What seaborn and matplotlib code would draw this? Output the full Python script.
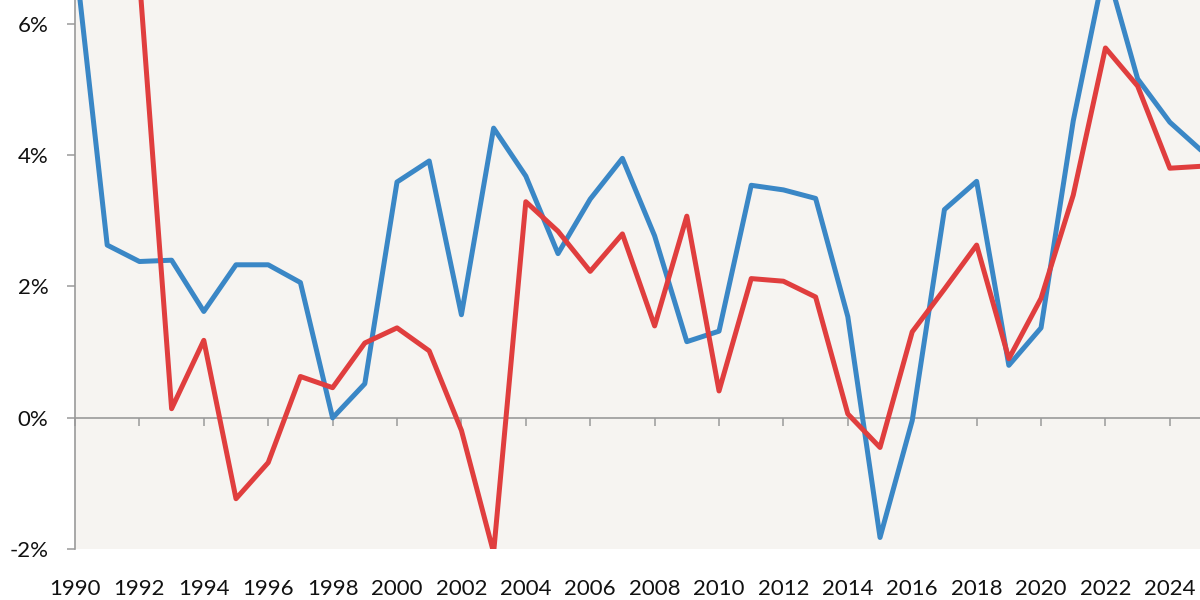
import matplotlib
matplotlib.use("Agg")
import matplotlib.pyplot as plt
import pandas as pd
import seaborn as sns

# Values (percent, yearly)
years = list(range(1990, 2026))
blue_values = [7.05, 2.63, 2.38, 2.40, 1.62, 2.33, 2.33, 2.06, 0.00, 0.52,
               3.59, 3.91, 1.57, 4.41, 3.68, 2.50, 3.33, 3.95, 2.77, 1.16,
               1.32, 3.54, 3.47, 3.34, 1.54, -1.82, -0.04, 3.17, 3.60, 0.80,
               1.37, 4.52, 6.90, 5.16, 4.50, 4.06]
red_values = [10.5, 9.2, 6.70, 0.14, 1.18, -1.23, -0.68, 0.63, 0.46, 1.14,
              1.37, 1.02, -0.19, -2.05, 3.29, 2.84, 2.23, 2.80, 1.40, 3.07,
              0.41, 2.12, 2.08, 1.84, 0.06, -0.45, 1.31, 1.96, 2.63, 0.90,
              1.82, 3.39, 5.63, 5.05, 3.80, 3.83]
y_ticks = [-2, 0, 2, 4, 6]
x_ticks = list(range(1990, 2025, 2))

df = pd.DataFrame({
    "year": years * 2,
    "value": blue_values + red_values,
    "series": ["blue"] * len(years) + ["red"] * len(years),
})

sns.set_theme(style="white")
plt.rcParams["font.family"] = ["Lato", "DejaVu Sans"]

fig = plt.figure(figsize=(12, 6), dpi=100)
fig.patch.set_facecolor("white")
ax = fig.add_axes([0.0625, 0.0845, 0.9392, 0.9155])
ax.set_facecolor("#f6f4f1")

sns.lineplot(data=df, x="year", y="value", hue="series",
             palette={"blue": "#3a87c6", "red": "#e03e3e"},
             linewidth=3.6, legend=False, ax=ax, zorder=3)

ax.set_xlim(1990, 2025)
ax.set_ylim(-2, 6.36)
ax.set_xlabel("")
ax.set_ylabel("")

ax.set_yticks(y_ticks)
ax.set_yticklabels([f"{t}%" for t in y_ticks])
ax.set_xticks(x_ticks)
ax.set_xticklabels([str(t) for t in x_ticks])

for side in ["top", "right"]:
    ax.spines[side].set_visible(False)
ax.spines["bottom"].set_position(("data", 0))
for side in ["left", "bottom"]:
    ax.spines[side].set_color("#9a9a9a")
    ax.spines[side].set_linewidth(1.2)

ax.tick_params(axis="y", direction="out", length=6, width=1.1, color="#9a9a9a",
               pad=13, labelsize=16, labelcolor="#111111", left=True)
ax.tick_params(axis="x", direction="out", length=6, width=1.1, color="#9a9a9a",
               pad=110, labelsize=16, labelcolor="#111111", bottom=True)

fig.savefig("out.png", dpi=100, facecolor=fig.get_facecolor())
